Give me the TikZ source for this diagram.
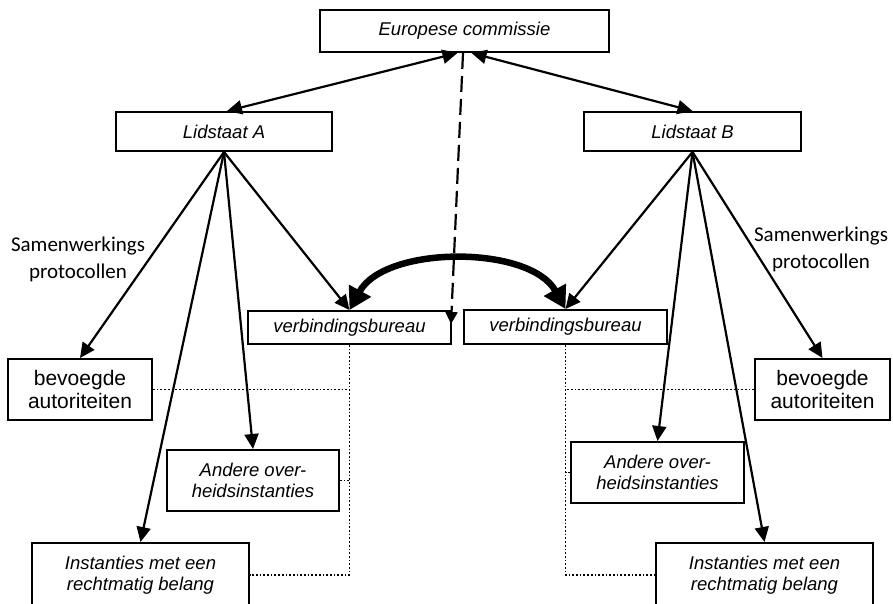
\documentclass[tikz,border=0pt]{standalone}
\usepackage{fontspec}
\setmainfont{Liberation Sans}
\newfontfamily\calfont{Carlito}
\usetikzlibrary{arrows.meta}

\begin{document}
\begin{tikzpicture}[
      x=1pt,y=-1pt, %pixel units, y down
      box/.style={draw,line width=2pt,align=center,inner sep=0pt,
        font=\fontsize{18.5}{21.5}\selectfont\itshape},
      plainbox/.style={box,font=\fontsize{21}{23.5}\selectfont},
      trans/.style={line width=2.2pt,-{Triangle[length=15pt,width=14pt]}},
      twoway/.style={line width=2.2pt,{Triangle[length=15pt,width=14pt]}-{Triangle[length=15pt,width=14pt]}},
      virtual/.style={line width=2.2pt,dash pattern=on 16pt off 7pt,-{Triangle[length=12pt,width=12pt]}},
      exch/.style={line width=6.5pt,{Triangle[length=22pt,width=24pt]}-{Triangle[length=22pt,width=24pt]}},
      link/.style={line width=1.7pt,dotted},
      proto/.style={align=center,font=\calfont\fontsize{21}{27}\selectfont}
    ]
    \useasboundingbox (0,0) rectangle (893,603);
    %top level
    \node[box,minimum width=289pt,minimum height=42pt] (ec) at (464.5,31) {Europese commissie};
    \node[box,minimum width=216pt,minimum height=39pt] (lidA) at (224,131.5) {Lidstaat A};
    \node[box,minimum width=217pt,minimum height=39pt] (lidB) at (692.5,131.5) {Lidstaat B};
    % liaison offices
    \node[box,minimum width=203pt,minimum height=33pt] (vbA) at (349.5,327.5) {verbindingsbureau};
    \node[box,minimum width=203pt,minimum height=34pt] (vbB) at (565.5,327) {verbindingsbureau};
    % authorities, member state A
    \node[plainbox,minimum width=144pt,minimum height=61pt] (bevA) at (80,389.5) {bevoegde\\autoriteiten};
    \node[box,minimum width=172pt,minimum height=61pt] (andA) at (253,480.5) {Andere over-\\heidsinstanties};
    \node[box,minimum width=217pt,minimum height=64pt] (instA) at (140.5,575) {Instanties met een\\rechtmatig belang};
    % authorities, member state B
    \node[plainbox,minimum width=135pt,minimum height=61pt] (bevB) at (822.5,389.5) {bevoegde\\autoriteiten};
    \node[box,minimum width=173pt,minimum height=61pt] (andB) at (657.5,472.5) {Andere over-\\heidsinstanties};
    \node[box,minimum width=217pt,minimum height=64pt] (instB) at (764.5,575) {Instanties met een\\rechtmatig belang};
    % protocol labels
    \node[proto] (protA) at (78,259.5) {Samenwerkings\\protocollen};
    \node[proto] (protB) at (821,249.5) {Samenwerkings\\protocollen};
    % commission <-> member states
    \draw[twoway] ([xshift=-7pt]ec.south) -- ([xshift=3pt]lidA.north);
    \draw[twoway] ([xshift=7pt]ec.south) -- (lidB.north);
    \coordinate (dtip) at (451,324);
    \draw[virtual] ([xshift=-1.5pt]ec.south) -- (dtip);
    % member state A
    \draw[trans] (lidA.south) -- (bevA.north);
    \draw[trans] (lidA.south) -- (andA.north);
    \draw[trans] (lidA.south) -- (instA.north);
    \draw[trans] (lidA.south) -- (vbA.north);
    % member state B
    \draw[trans] (lidB.south) -- (bevB.north);
    \draw[trans] (lidB.south) -- (andB.north);
    \draw[trans] (lidB.south) -- (instB.north);
    \draw[trans] (lidB.south) -- (vbB.north);
    % exchange between the offices
    \draw[exch] (vbA.north) .. controls (385,245) and (530,245) .. (vbB.north);
    % dotted links
    \draw[link] (vbA.south) |- (instA.east);
    \draw[link] (bevA.east) -- (bevA.east -| vbA.south);
    \draw[link] (andA.east) -- (andA.east -| vbA.south);
    \draw[link] (vbB.south) |- (instB.west);
    \draw[link] (bevB.west) -- (bevB.west -| vbB.south);
    \draw[link] (andB.west) -- (andB.west -| vbB.south);
\end{tikzpicture}
\end{document}
